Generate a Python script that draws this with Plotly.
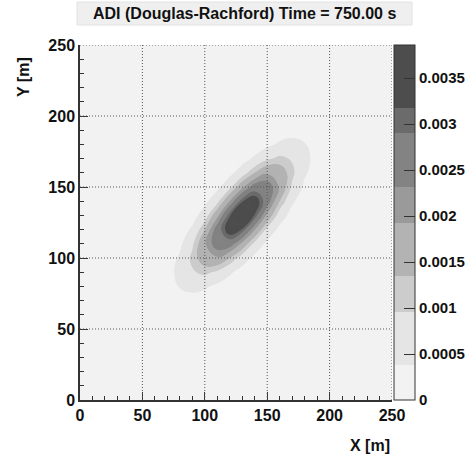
import plotly.graph_objects as go

# ---------------- data ----------------
title_text = "ADI (Douglas-Rachford) Time = 750.00 s"
x_title = "X [m]"
y_title = "Y [m]"

# grid coordinates of the sampled concentration field [m]
grid_x = [50, 60, 70, 80, 90, 100, 110, 120, 130, 140, 150, 160, 170, 180, 190, 200, 210]
grid_y = [50, 60, 70, 80, 90, 100, 110, 120, 130, 140, 150, 160, 170, 180, 190, 200, 210]

# field values in units of 1e-4 (rows = y from 50 to 210, columns = x from 50 to 210)
z_e4 = [
    [0.1, 0.2, 0.2, 0.2, 0.1, 0, 0, 0, 0, 0, 0, 0, 0, 0, 0, 0, 0],
    [0.2, 0.5, 0.7, 0.8, 0.6, 0.3, 0.1, 0, 0, 0, 0, 0, 0, 0, 0, 0, 0],
    [0.2, 0.7, 1.5, 2.2, 2.1, 1.3, 0.6, 0.2, 0, 0, 0, 0, 0, 0, 0, 0, 0],
    [0.2, 0.8, 2.2, 4.1, 5.3, 4.6, 2.7, 1.1, 0.3, 0, 0, 0, 0, 0, 0, 0, 0],
    [0.1, 0.6, 2.1, 5.3, 9.1, 10.8, 8.6, 4.7, 1.7, 0.4, 0, 0, 0, 0, 0, 0, 0],
    [0, 0.3, 1.3, 4.6, 10.8, 17.0, 18.4, 13.4, 6.7, 2.3, 0.5, 0, 0, 0, 0, 0, 0],
    [0, 0.1, 0.6, 2.7, 8.6, 18.4, 26.6, 26.2, 17.6, 8.0, 2.5, 0.5, 0, 0, 0, 0, 0],
    [0, 0, 0.2, 1.1, 4.7, 13.4, 26.2, 34.8, 31.3, 19.2, 8.0, 2.3, 0.4, 0, 0, 0, 0],
    [0, 0, 0, 0.3, 1.7, 6.7, 17.6, 31.3, 38.0, 31.3, 17.6, 6.7, 1.7, 0.3, 0, 0, 0],
    [0, 0, 0, 0, 0.4, 2.3, 8.0, 19.2, 31.3, 34.8, 26.2, 13.4, 4.7, 1.1, 0.2, 0, 0],
    [0, 0, 0, 0, 0, 0.5, 2.5, 8.0, 17.6, 26.2, 26.6, 18.4, 8.6, 2.7, 0.6, 0.1, 0],
    [0, 0, 0, 0, 0, 0, 0.5, 2.3, 6.7, 13.4, 18.4, 17.0, 10.8, 4.6, 1.3, 0.3, 0],
    [0, 0, 0, 0, 0, 0, 0, 0.4, 1.7, 4.7, 8.6, 10.8, 9.1, 5.3, 2.1, 0.6, 0.1],
    [0, 0, 0, 0, 0, 0, 0, 0, 0.3, 1.1, 2.7, 4.6, 5.3, 4.1, 2.2, 0.8, 0.2],
    [0, 0, 0, 0, 0, 0, 0, 0, 0, 0.2, 0.6, 1.3, 2.1, 2.2, 1.5, 0.7, 0.2],
    [0, 0, 0, 0, 0, 0, 0, 0, 0, 0, 0.1, 0.3, 0.6, 0.8, 0.7, 0.5, 0.2],
    [0, 0, 0, 0, 0, 0, 0, 0, 0, 0, 0, 0, 0.1, 0.2, 0.2, 0.2, 0.1],
]

# colour band edges (units of 1e-4) and palette max
band_edges_e4 = [3.8, 9.6, 13.5, 19.2, 23.2, 29.0, 31.7]
z_max_e4 = 38.6
band_colors = ["#f2f2f2", "#e5e5e5", "#cccccc", "#b3b3b3",
               "#9a9a9a", "#838383", "#6b6b6b", "#4d4d4d"]

axis_tickvals = [0, 50, 100, 150, 200, 250]
cbar_tickvals = [0, 0.0005, 0.001, 0.0015, 0.002, 0.0025, 0.003, 0.0035]
cbar_ticktext = ["0", "0.0005", "0.001", "0.0015", "0.002", "0.0025", "0.003", "0.0035"]

# ---------------- build ----------------
scale = 1e-4
z = [[v * scale for v in row] for row in z_e4]
zmax = z_max_e4 * scale

colorscale = []
lo = 0.0
for i, col in enumerate(band_colors):
    hi = band_edges_e4[i] / z_max_e4 if i < len(band_edges_e4) else 1.0
    colorscale.append([lo, col])
    colorscale.append([hi, col])
    lo = hi

FONT = "Liberation Sans, Arial, sans-serif"
bold16 = dict(family=FONT, size=16, color="#111111", weight="bold")
bold15 = dict(family=FONT, size=15, color="#111111", weight="bold")

fig = go.Figure()
fig.add_trace(go.Contour(
    x=grid_x, y=grid_y, z=z,
    zmin=0, zmax=zmax, zauto=False,
    autocontour=False,
    contours=dict(start=0, end=zmax, size=zmax / 200, coloring="fill", showlines=False),
    line=dict(width=0, smoothing=1.3),
    colorscale=colorscale,
    showscale=False,
    hoverinfo="skip",
))

# colour bar (palette axis)
fig.add_trace(go.Scatter(
    x=[0], y=[0], mode="markers", hoverinfo="skip",
    marker=dict(size=1, opacity=0, color=[0], cmin=0, cmax=zmax,
                colorscale=colorscale, showscale=True,
                colorbar=dict(
                    x=(394 - 80) / 312, xanchor="left", xpad=0,
                    y=0.5, yanchor="middle", len=1, lenmode="fraction", ypad=0,
                    thickness=21, thicknessmode="pixels",
                    outlinecolor="#333333", outlinewidth=1,
                    tickmode="array", tickvals=cbar_tickvals, ticktext=cbar_ticktext,
                    ticks="inside", ticklen=11, tickwidth=1, tickcolor="#333333",
                    tickfont=bold15,
                )),
))

axis_common = dict(
    range=[0, 250], tickmode="array", tickvals=axis_tickvals,
    showline=True, linecolor="#333333", linewidth=1.5, mirror=False,
    ticks="inside", ticklen=8, tickwidth=1, tickcolor="#333333",
    minor=dict(ticks="inside", ticklen=4, dtick=10, tickcolor="#333333", showgrid=False),
    showgrid=False, zeroline=False, tickfont=bold16, fixedrange=True,
    layer="above traces",
)

# dotted grid drawn above the filled contours
grid_dash = "1px,2px"
shapes = []
for v in axis_tickvals[1:]:
    shapes.append(dict(type="line", xref="x", yref="paper", x0=v, x1=v, y0=0, y1=1,
                       line=dict(color="#555555", width=1, dash=grid_dash), layer="above"))
    shapes.append(dict(type="line", xref="paper", yref="y", x0=0, x1=1, y0=v, y1=v,
                       line=dict(color="#555555", width=1, dash=grid_dash), layer="above"))
shapes.append(dict(type="rect", xref="paper", yref="paper",
                   x0=(77 - 80) / 312, x1=(412 - 80) / 312,
                   y0=(400 - 25) / 355, y1=(400 - 2) / 355,
                   fillcolor="#efefef", line=dict(color="#e2e2e2", width=1), layer="above"))

fig.update_layout(
    width=466, height=459,
    margin=dict(l=80, r=74, t=45, b=59, autoexpand=False),
    paper_bgcolor="white",
    plot_bgcolor=band_colors[0],
    xaxis=dict(**axis_common),
    yaxis=dict(**axis_common),
    showlegend=False,
    shapes=shapes,
    annotations=[
        dict(text=title_text, xref="paper", yref="paper",
             x=(244.5 - 80) / 312, y=(400 - 13.5) / 355,
             xanchor="center", yanchor="middle", showarrow=False, font=bold16),
        dict(text=x_title, xref="paper", yref="paper",
             x=(392 - 80) / 312, y=(400 - 445) / 355,
             xanchor="right", yanchor="middle", showarrow=False, font=bold16),
        dict(text=y_title, xref="paper", yref="paper", textangle=-90,
             x=(24 - 80) / 312, y=(400 - 55) / 355,
             xanchor="center", yanchor="top", showarrow=False, font=bold16),
    ],
)

fig.write_html("out.html", config={"displayModeBar": False},
               post_script="document.body.style.margin='0px';")
